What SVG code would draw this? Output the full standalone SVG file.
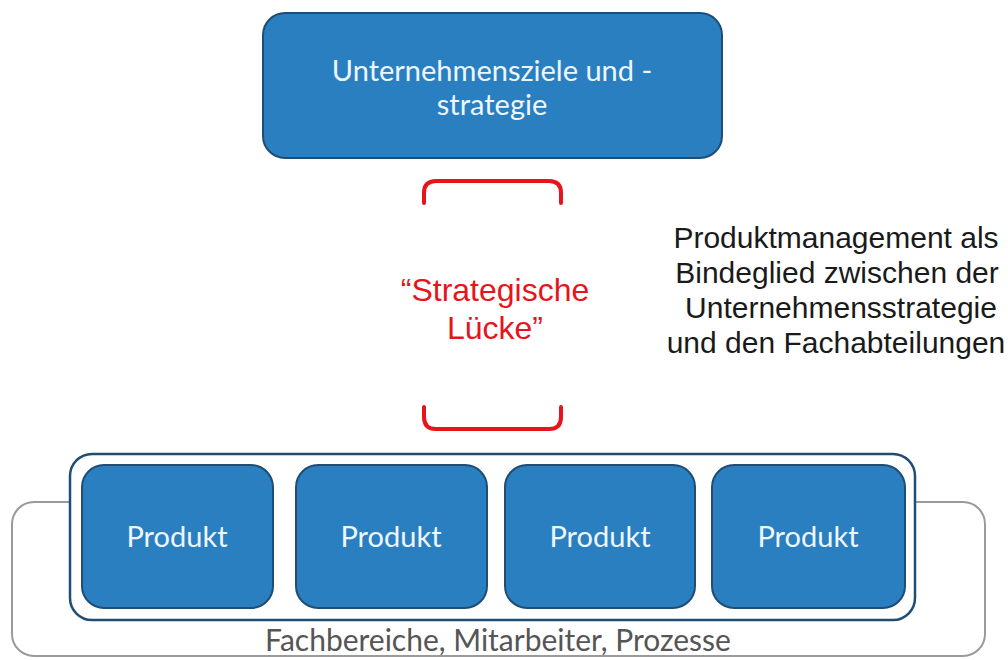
<svg xmlns="http://www.w3.org/2000/svg" width="1008" height="660" viewBox="0 0 1008 660">
  <style>
    .blue { fill: #2a7fc1; stroke: #1f4d74; stroke-width: 2; }
    .lbl { font-family: Lato, "Open Sans", sans-serif; font-size: 29px; fill: #eef6ff; text-anchor: middle; }
    .gap { fill: none; stroke: #e8141c; stroke-width: 4; stroke-linecap: round; }
    .gaptxt { font-family: "Liberation Sans", Arial, sans-serif; font-size: 32px; fill: #e8141c; text-anchor: middle; }
    .note { font-family: "Liberation Sans", Arial, sans-serif; font-size: 30px; fill: #1a1a1a; text-anchor: middle; }
  </style>
  <rect width="1008" height="660" fill="#ffffff"/>

  <!-- departments frame behind the product row -->
  <g id="fachbereiche">
    <rect x="12" y="502" width="973" height="154" rx="22" fill="none" stroke="#9a9a9a" stroke-width="2"/>
    <text x="498" y="651" font-family="Lato, 'Open Sans', sans-serif" font-size="30" fill="#555555" text-anchor="middle">Fachbereiche, Mitarbeiter, Prozesse</text>
  </g>

  <g id="strategie">
    <rect class="blue" x="263" y="13" width="459" height="145" rx="22"/>
    <text class="lbl" x="492" y="81" font-size="30">Unternehmensziele und -</text>
    <text class="lbl" x="492" y="115" font-size="30">strategie</text>
  </g>

  <g id="luecke">
    <path class="gap" d="M424,203 V193 Q424,181 436,181 H549 Q561,181 561,193 V203"/>
    <path class="gap" d="M424,407 V417 Q424,429 436,429 H549 Q561,429 561,417 V407"/>
    <text class="gaptxt" x="495" y="301">“Strategische</text>
    <text class="gaptxt" x="495" y="339">Lücke”</text>
  </g>

  <g id="bindeglied">
    <text class="note" x="836" y="248">Produktmanagement als</text>
    <text class="note" x="837" y="283">Bindeglied zwischen der</text>
    <text class="note" x="841" y="318">Unternehmensstrategie</text>
    <text class="note" x="836" y="353">und den Fachabteilungen</text>
  </g>

  <g id="produkte">
    <rect x="70" y="454" width="845" height="166" rx="22" fill="#ffffff" stroke="#1f4d74" stroke-width="2.5"/>
    <g id="produkt1">
      <rect class="blue" x="82" y="465" width="191" height="143" rx="22"/>
      <text class="lbl" x="177" y="547">Produkt</text>
    </g>
    <g id="produkt2">
      <rect class="blue" x="296" y="465" width="191" height="143" rx="22"/>
      <text class="lbl" x="391" y="547">Produkt</text>
    </g>
    <g id="produkt3">
      <rect class="blue" x="505" y="465" width="190" height="143" rx="22"/>
      <text class="lbl" x="600" y="547">Produkt</text>
    </g>
    <g id="produkt4">
      <rect class="blue" x="712" y="465" width="193" height="143" rx="22"/>
      <text class="lbl" x="808" y="547">Produkt</text>
    </g>
  </g>
</svg>
